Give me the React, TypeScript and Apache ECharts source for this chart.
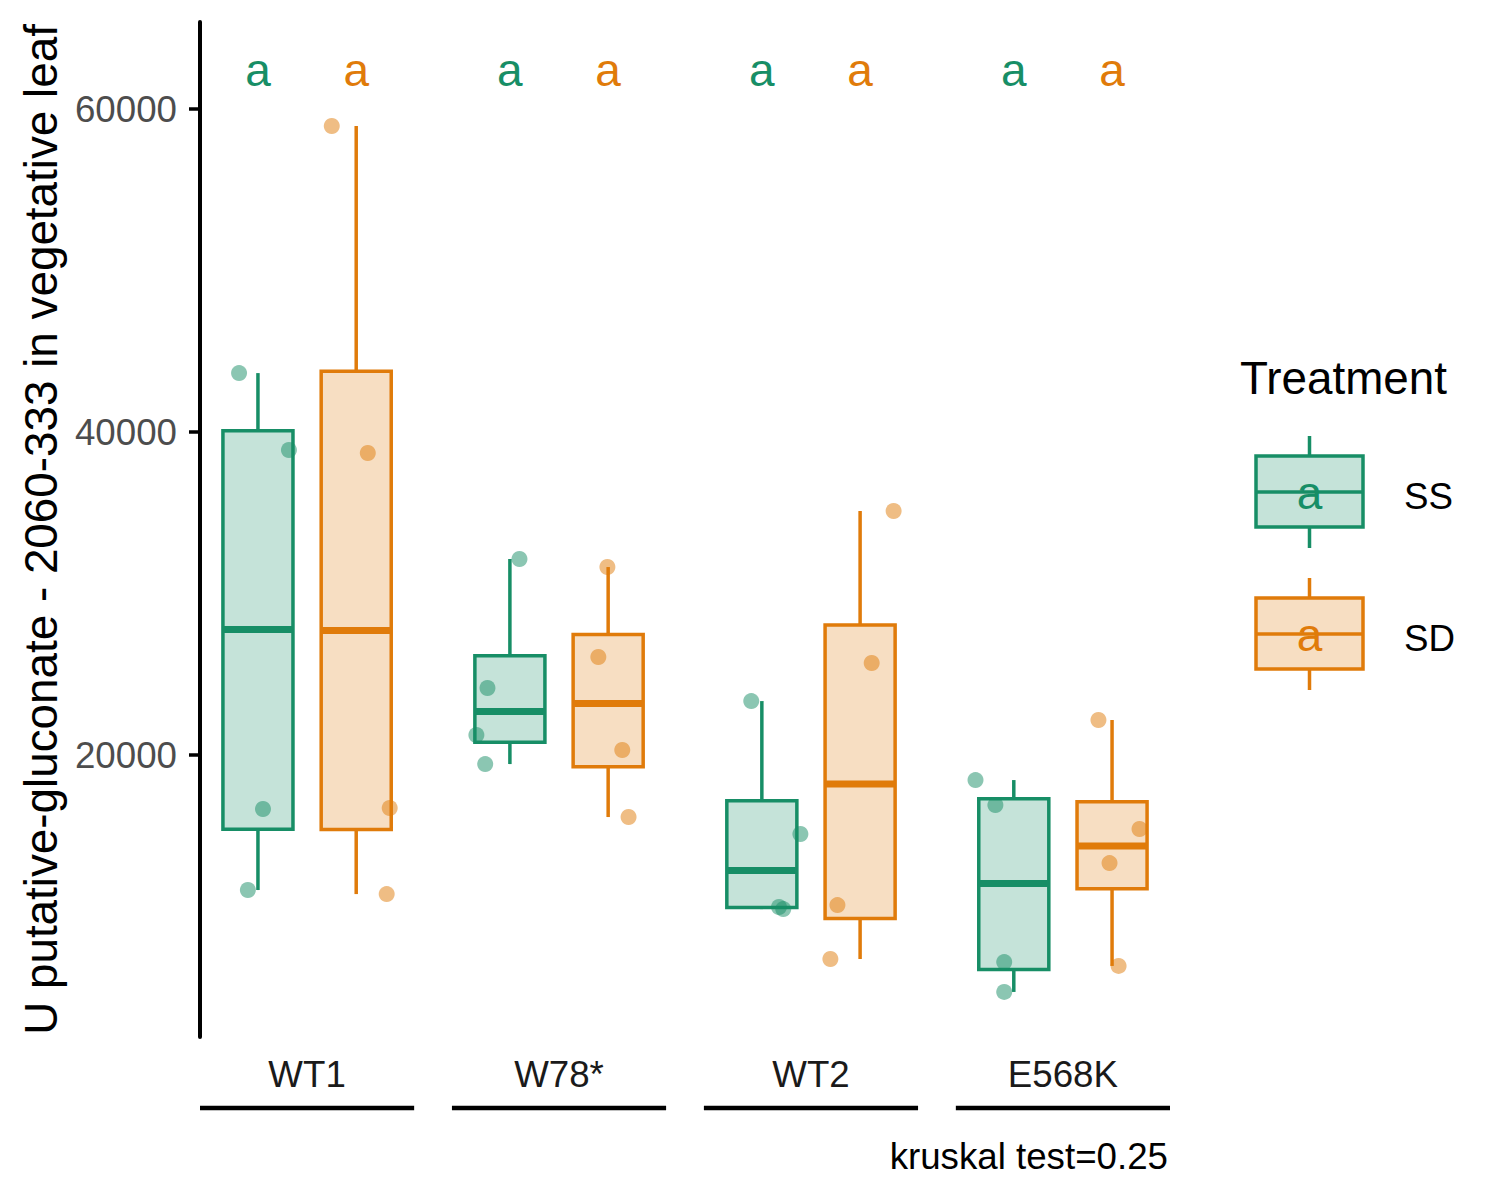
import React, { useEffect, useRef } from 'react';
import * as echarts from 'echarts';

// ---------- data ----------
const categories = ['WT1', 'W78*', 'WT2', 'E568K'];
const treatments = ['SS', 'SD'];

// [lower whisker, Q1, median, Q3, upper whisker]
const ssBoxStats = [
  [11640, 15400, 27770, 40080, 43650],
  [19440, 20790, 22690, 26150, 32140],
  [10460, 10560, 12850, 17170, 23340],
  [5330, 6720, 12040, 17290, 18450],
];
const sdBoxStats = [
  [11390, 15390, 27710, 43760, 58950],
  [16160, 19270, 23190, 27460, 31640],
  [7370, 9880, 18200, 28050, 35110],
  [6940, 11720, 14370, 17110, 22170],
];

// raw observations per genotype
const ssPoints = [
  [43650, 38890, 16660, 11640],
  [32140, 24150, 21240, 19440],
  [23340, 15110, 10590, 10460],
  [18450, 16900, 7180, 5330],
];
const sdPoints = [
  [58950, 38700, 16720, 11390],
  [31640, 26070, 20310, 16160],
  [35110, 25700, 10710, 7370],
  [22170, 15420, 13310, 6940],
];
// horizontal jitter of each observation (category units)
const ssJitter = [
  [-0.075, 0.123, 0.02, -0.04],
  [0.038, -0.089, -0.133, -0.098],
  [-0.042, 0.153, 0.068, 0.085],
  [-0.152, -0.073, -0.038, -0.038],
];
const sdJitter = [
  [-0.097, 0.046, 0.133, 0.121],
  [-0.003, -0.039, 0.056, 0.081],
  [0.133, 0.046, -0.09, -0.118],
  [-0.054, 0.109, -0.01, 0.026],
];

const ssLetters = ['a', 'a', 'a', 'a'];
const sdLetters = ['a', 'a', 'a', 'a'];
const letterY = 62400;

const yTicks = [20000, 40000, 60000];
const yTitle = 'U putative-gluconate - 2060-333 in vegetative leaf';
const legendTitle = 'Treatment';
const captionText = 'kruskal test=0.25';

// ---------- styling ----------
const FONT = '"Liberation Sans", Arial, Helvetica, sans-serif';
const GREEN = '#178E66';
const ORANGE = '#E07B0A';
const GREEN_FILL = '#C5E3D9';
const ORANGE_FILL = '#F7DEC2';
const DODGE = 0.195;
const BOX_W = 0.278;
const LW = 3.5;

function boxSeries(name: string, stats: number[][], off: number, stroke: string, fill: string) {
  return {
    type: 'custom',
    name,
    clip: false,
    z: 2,
    data: stats.map((s, i) => [i + 1 + off, ...s]),
    encode: { x: 0, y: [1, 2, 3, 4, 5] },
    renderItem: (params: any, api: any) => {
      const x = api.value(0) as number;
      const lo = api.value(1), q1 = api.value(2), med = api.value(3), q3 = api.value(4), hi = api.value(5);
      const c = (v: number) => api.coord([x, v]);
      const pLo = c(lo), pQ1 = c(q1), pMed = c(med), pQ3 = c(q3), pHi = c(hi);
      const halfW = api.size([BOX_W, 0])[0] / 2;
      const cx = pMed[0];
      return {
        type: 'group',
        children: [
          { type: 'line', shape: { x1: cx, y1: pHi[1], x2: cx, y2: pQ3[1] }, style: { stroke, lineWidth: LW } },
          { type: 'line', shape: { x1: cx, y1: pQ1[1], x2: cx, y2: pLo[1] }, style: { stroke, lineWidth: LW } },
          {
            type: 'rect',
            shape: { x: cx - halfW, y: pQ3[1], width: 2 * halfW, height: pQ1[1] - pQ3[1] },
            style: { fill, stroke, lineWidth: LW },
          },
          {
            type: 'line',
            shape: { x1: cx - halfW, y1: pMed[1], x2: cx + halfW, y2: pMed[1] },
            style: { stroke, lineWidth: 7 },
          },
        ],
      };
    },
  };
}

function pointSeries(name: string, pts: number[][], jit: number[][], off: number, color: string) {
  const data: number[][] = [];
  pts.forEach((vals, i) => vals.forEach((v, j) => data.push([i + 1 + off + jit[i][j], v])));
  return {
    type: 'scatter',
    name,
    z: 3,
    symbol: 'circle',
    symbolSize: 16,
    itemStyle: { color, opacity: 0.5 },
    data,
  };
}

function letterSeries(name: string, letters: string[], off: number, color: string) {
  return {
    type: 'custom',
    name,
    clip: false,
    z: 4,
    data: letters.map((_, i) => [i + 1 + off, letterY]),
    encode: { x: 0, y: 1 },
    renderItem: (params: any, api: any) => {
      const p = api.coord([api.value(0), api.value(1)]);
      return {
        type: 'text',
        x: p[0],
        y: p[1],
        style: {
          text: letters[params.dataIndex],
          fontSize: 46,
          fontFamily: FONT,
          fill: color,
          align: 'center',
          verticalAlign: 'middle',
        },
      };
    },
  };
}

function bracketSeries() {
  return {
    type: 'custom',
    name: 'brackets',
    clip: false,
    silent: true,
    data: categories.map((_, i) => [i + 1, 20000]),
    encode: { x: 0, y: 1 },
    renderItem: (params: any, api: any) => {
      const x = api.value(0) as number;
      const a = api.coord([x - 0.425, 20000]);
      const b = api.coord([x + 0.425, 20000]);
      return {
        type: 'line',
        shape: { x1: a[0], y1: 1108, x2: b[0], y2: 1108 },
        style: { stroke: '#000', lineWidth: 4.5 },
      };
    },
  };
}

function legendKey(cy: number, label: string, stroke: string, fill: string) {
  const cx = 1309.5;
  return [
    { type: 'line', shape: { x1: cx, y1: cy - 56, x2: cx, y2: cy + 56 }, style: { stroke, lineWidth: LW } },
    { type: 'rect', shape: { x: 1256, y: cy - 36, width: 107, height: 71 }, style: { fill, stroke, lineWidth: LW } },
    { type: 'line', shape: { x1: 1256, y1: cy, x2: 1363, y2: cy }, style: { stroke, lineWidth: LW } },
    {
      type: 'text',
      x: cx,
      y: cy + 1,
      style: { text: 'a', fontSize: 46, fontFamily: FONT, fill: stroke, align: 'center', verticalAlign: 'middle' },
    },
    {
      type: 'text',
      x: 1404,
      y: cy + 4,
      style: { text: label, fontSize: 36.7, fontFamily: FONT, fill: '#000', align: 'left', verticalAlign: 'middle' },
    },
  ];
}

export default function App() {
  const ref = useRef<HTMLDivElement>(null);
  useEffect(() => {
    const chart = echarts.init(ref.current!, null, { renderer: 'svg' });
    const option: any = {
      animation: false,
      backgroundColor: '#fff',
      textStyle: { fontFamily: FONT },
      grid: { left: 200, top: 22, width: 970, height: 1015, containLabel: false, outerBoundsMode: 'none' },
      xAxis: {
        type: 'value',
        min: 0.575,
        max: 4.425,
        axisLine: { show: false },
        axisTick: { show: false },
        splitLine: { show: false },
        axisLabel: {
          customValues: [1, 2, 3, 4],
          formatter: (v: number) => categories[Math.round(v) - 1] ?? '',
          fontSize: 36.7,
          color: '#1A1A1A',
          fontFamily: FONT,
          margin: 19,
        },
      },
      yAxis: {
        type: 'value',
        min: 2540,
        max: 65390,
        name: yTitle,
        nameLocation: 'middle',
        nameGap: 126,
        nameTextStyle: { fontSize: 45.8, color: '#000', fontFamily: FONT },
        axisLine: { show: true, lineStyle: { color: '#000', width: 4 } },
        axisTick: { show: true, length: 11, lineStyle: { color: '#000', width: 3.5 }, customValues: yTicks },
        axisLabel: {
          customValues: yTicks,
          formatter: (v: number) => String(v),
          fontSize: 36.7,
          color: '#4D4D4D',
          margin: 23,
          fontFamily: FONT,
        },
        splitLine: { show: false },
      },
      series: [
        boxSeries(treatments[0], ssBoxStats, -DODGE, GREEN, GREEN_FILL),
        boxSeries(treatments[1], sdBoxStats, DODGE, ORANGE, ORANGE_FILL),
        pointSeries(treatments[0] + ' points', ssPoints, ssJitter, -DODGE, GREEN),
        pointSeries(treatments[1] + ' points', sdPoints, sdJitter, DODGE, ORANGE),
        letterSeries(treatments[0] + ' letters', ssLetters, -DODGE, GREEN),
        letterSeries(treatments[1] + ' letters', sdLetters, DODGE, ORANGE),
        bracketSeries(),
      ],
      graphic: [
        {
          type: 'text',
          x: 1240,
          y: 378,
          style: { text: legendTitle, fontSize: 45.8, fontFamily: FONT, fill: '#000', align: 'left', verticalAlign: 'middle' },
        },
        ...legendKey(492, treatments[0], GREEN, GREEN_FILL),
        ...legendKey(634, treatments[1], ORANGE, ORANGE_FILL),
        {
          type: 'text',
          x: 1168,
          y: 1156,
          style: { text: captionText, fontSize: 36.7, fontFamily: FONT, fill: '#000', align: 'right', verticalAlign: 'middle' },
        },
      ],
    };
    chart.setOption(option);
    return () => chart.dispose();
  }, []);
  return <div ref={ref} style={{ position: 'absolute', left: 0, top: 0, width: 1500, height: 1200 }} />;
}
